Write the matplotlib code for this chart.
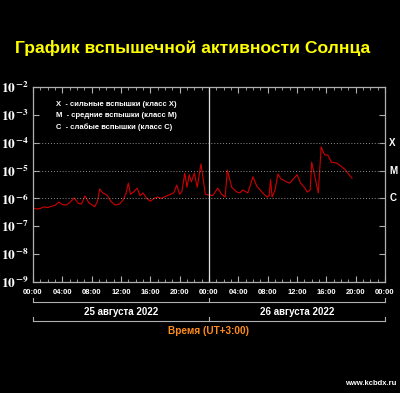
import matplotlib
matplotlib.use("Agg")
import matplotlib.pyplot as plt
import matplotlib.transforms as mtransforms
from matplotlib.ticker import FixedLocator, NullLocator

# hours since 25 Aug 00:00 (UT+3) and log10 of X-ray flux (W/m^2)
hours = [0, 0.5, 1, 1.5, 2, 2.5, 3, 3.5, 4, 4.5, 5, 5.6, 6.2, 6.6, 7.1, 7.6,
         8.4, 8.8, 9.1, 9.5, 10.1, 10.6, 11.2, 11.8, 12.3, 12.7, 13.0, 13.3,
         13.7, 14.2, 14.6, 15, 15.5, 16, 16.5, 17, 17.5, 18.2, 18.8, 19.2,
         19.6, 20, 20.3, 20.7, 21.0, 21.3, 21.6, 22.0, 22.4, 22.9, 23.2, 23.5,
         24, 24.5, 25.2, 25.7, 26.2, 26.5, 27.1, 27.8, 28.2, 28.6, 29.3, 30,
         30.5, 31, 31.5, 31.9, 32.2, 32.4, 32.6, 33.0, 33.4, 33.8, 34.1, 34.5,
         35, 35.5, 36, 36.5, 37, 37.4, 37.8, 38.0, 38.5, 38.9, 39.3, 39.6,
         39.8, 40.2, 40.7, 41.2, 41.6, 42.5, 43.5]
log_flux = [-6.34, -6.38, -6.36, -6.30, -6.33, -6.28, -6.25, -6.13, -6.22,
            -6.24, -6.15, -5.98, -6.18, -6.20, -5.91, -6.15, -6.30, -6.10,
            -5.66, -5.80, -5.88, -6.10, -6.24, -6.20, -6.05, -5.80, -5.45,
            -5.85, -5.77, -5.63, -5.90, -5.80, -6.00, -6.10, -6.00, -5.95,
            -6.00, -5.91, -5.85, -5.80, -5.52, -5.85, -5.75, -5.09, -5.60,
            -5.15, -5.40, -5.09, -5.60, -4.76, -5.30, -5.85, -5.88, -5.90,
            -5.63, -5.85, -5.95, -4.98, -5.60, -5.77, -5.80, -5.70, -5.80,
            -5.22, -5.55, -5.70, -5.85, -5.95, -5.90, -5.33, -5.95, -5.70,
            -5.12, -5.30, -5.33, -5.40, -5.45, -5.30, -5.15, -5.45, -5.60,
            -5.77, -5.70, -4.70, -5.30, -5.80, -4.15, -4.35, -4.44, -4.44,
            -4.70, -4.72, -4.76, -4.95, -5.27]
flux = [10 ** v for v in log_flux]

decades = [-9, -8, -7, -6, -5, -4, -3, -2]
class_levels = [1e-4, 1e-5, 1e-6]
class_names = ["X", "M", "C"]
time_labels = ["00:00", "04:00", "08:00", "12:00", "16:00", "20:00"] * 2 + ["00:00"]
days = ["25 августа 2022", "26 августа 2022"]
legend_lines = ["X  - сильные вспышки (класс X)",
                "M  - средние вспышки (класс M)",
                "C  - слабые вспышки (класс C)"]

plt.rcParams['font.family'] = ['Liberation Sans', 'DejaVu Sans']
plt.rcParams['mathtext.fontset'] = 'stix'
grey = "#b0b0b0"

fig = plt.figure(figsize=(4.0, 3.93), dpi=100, facecolor="black")
ax = fig.add_axes([0.0825, 0.2824, 0.88, 0.4962], facecolor="black")

ax.plot(hours, flux, color="#d00000", lw=0.8)
ax.set_yscale("log")
ax.set_ylim(1e-9, 1e-2)
ax.set_xlim(0, 48)

for lev in class_levels:
    ax.axhline(lev, color="#909090", lw=0.7, ls=(0, (1, 2)))
ax.axvline(24, color="#e0e0e0", lw=0.9)

for sp in ax.spines.values():
    sp.set_color(grey)
    sp.set_linewidth(0.9)

ax.yaxis.set_major_locator(FixedLocator([10.0 ** d for d in decades]))
ax.yaxis.set_minor_locator(NullLocator())
ax.set_yticklabels([r"$\mathbf{10}^{\,\mathbf{%d}}$" % d for d in decades])
ax.tick_params(axis="y", which="major", direction="in", length=4, color=grey,
               labelcolor="white", labelsize=9.5, pad=3, right=True)

ax.xaxis.set_major_locator(FixedLocator(list(range(0, 49, 4))))
ax.xaxis.set_minor_locator(FixedLocator(list(range(0, 49))))
ax.set_xticklabels(time_labels)
ax.tick_params(axis="x", which="major", direction="in", length=4, color=grey,
               labelcolor="white", labelsize=5.5, pad=5, top=True)
ax.tick_params(axis="x", which="minor", direction="in", length=2.5, color=grey,
               top=True)
for lab in ax.get_xticklabels():
    lab.set_fontweight("bold")

# class labels on the right
for lev, name in zip(class_levels, class_names):
    ax.text(1.012, lev, name, transform=ax.get_yaxis_transform(), color="white",
            fontsize=7, fontweight="bold", va="center", ha="left")

# legend text
for i, line in enumerate(legend_lines):
    ax.text(0.065, 0.91 - i * 0.057, line, transform=ax.transAxes, color="white",
            fontsize=5.5, fontweight="bold", va="center", ha="left")

# date brackets below the axis
trans = mtransforms.blended_transform_factory(ax.transData, ax.transAxes)
for yb in (-0.103, -0.2):
    ax.plot([0, 48], [yb, yb], color=grey, lw=0.8, transform=trans, clip_on=False)
    for xb in (0, 24, 48):
        ax.plot([xb, xb], [yb, yb + 0.02], color=grey, lw=0.8, transform=trans,
                clip_on=False)
for i, d in enumerate(days):
    ax.text(12 + 24 * i, -0.152, d, transform=trans, color="white", fontsize=7,
            fontweight="bold", ha="center", va="center")
ax.text(24, -0.252, "Время (UT+3:00)", transform=trans, color="#ff8c1a",
        fontsize=7.2, fontweight="bold", ha="center", va="center")

fig.text(0.0375, 0.878, "График вспышечной активности Солнца", color="#ffff00",
         fontsize=12.6, fontweight="bold", ha="left", va="center")
fig.text(0.99, 0.015, "www.kcbdx.ru", color="white", fontsize=5.5,
         fontweight="bold", ha="right", va="bottom")

fig.savefig("out.png", dpi=100, facecolor="black")
